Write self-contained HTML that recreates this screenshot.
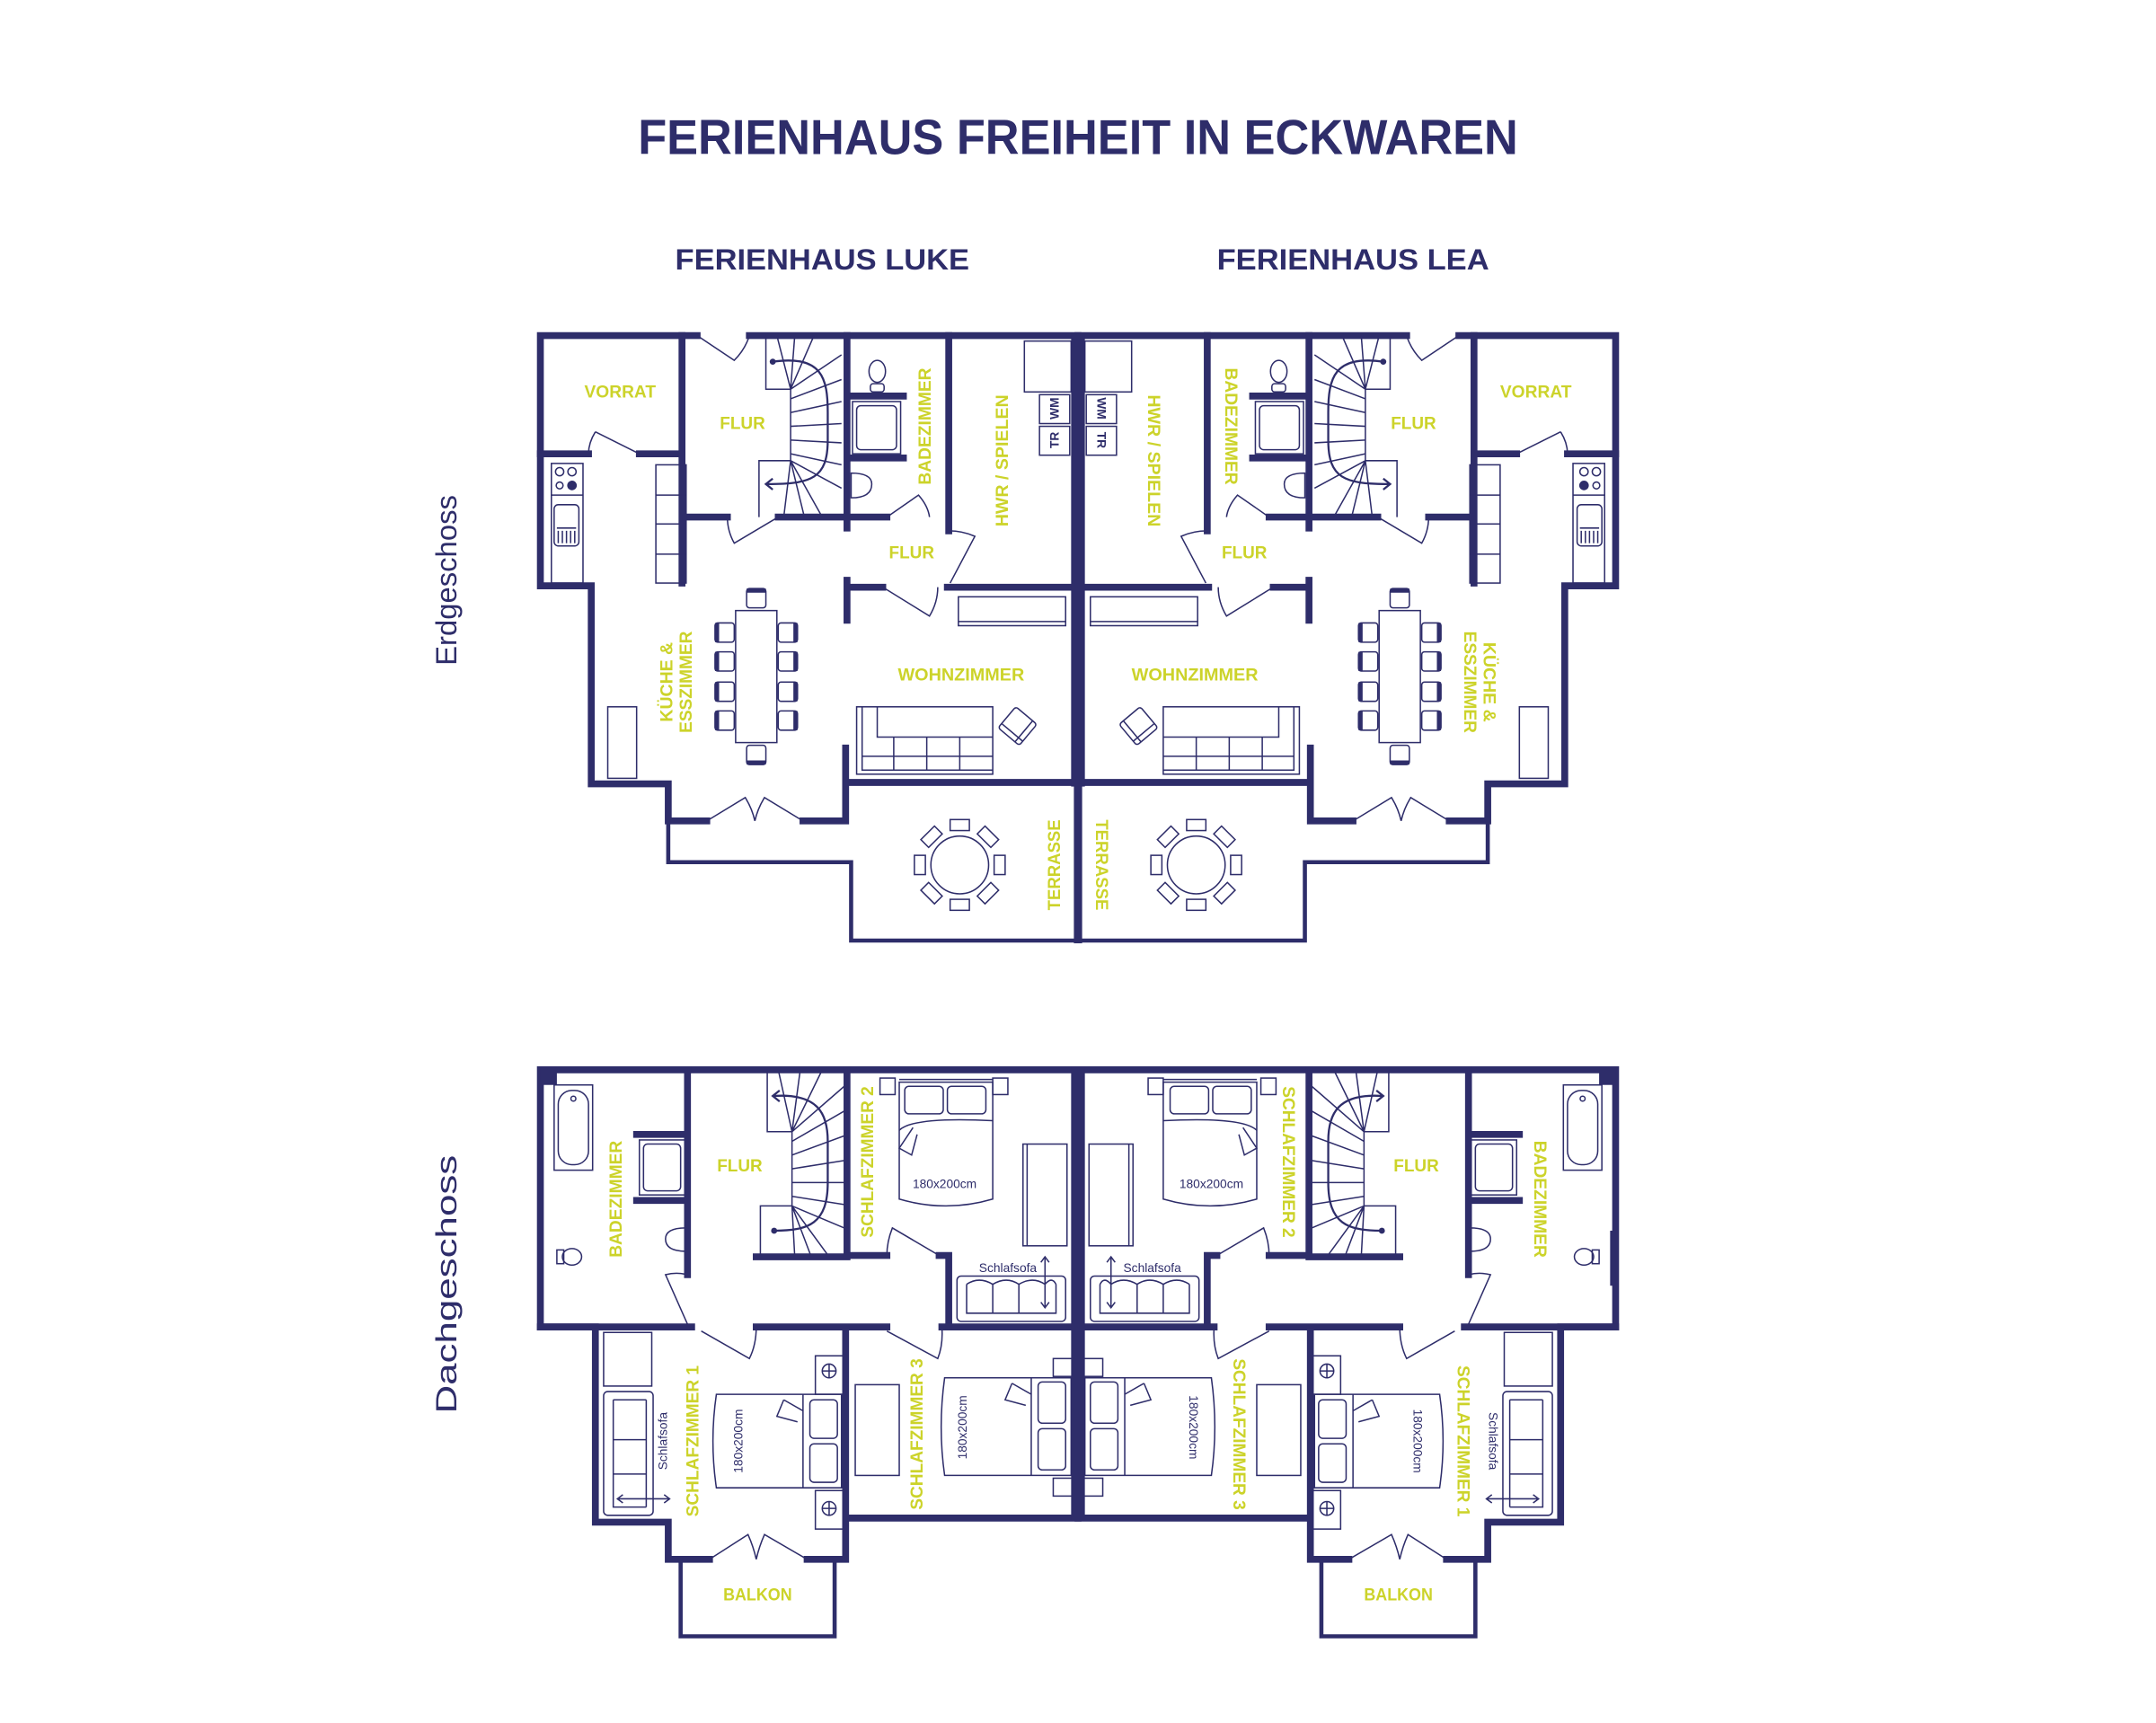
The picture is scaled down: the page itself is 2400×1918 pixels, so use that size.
<!DOCTYPE html>
<html><head><meta charset="utf-8"><style>
html,body{margin:0;padding:0;background:#fff;}
svg{display:block;}
.w{stroke:#2e2d6a;stroke-width:5;fill:none;stroke-linecap:square;}
.m{stroke:#2e2d6a;stroke-width:3;fill:none;stroke-linecap:square;}
.t{stroke:#2e2d6a;stroke-width:1;fill:none;}
.tf{stroke:#2e2d6a;stroke-width:1;fill:#fff;}
.lb{font-family:"Liberation Sans",sans-serif;font-weight:bold;font-size:12.5px;fill:#ccd32a;}
.sm{font-family:"Liberation Sans",sans-serif;font-size:9px;fill:#2e2d6a;}
.hd{font-family:"Liberation Sans",sans-serif;font-weight:bold;fill:#2e2d6a;}
</style></head><body>
<svg width="2400" height="1918" viewBox="0 0 1568 1253" xmlns="http://www.w3.org/2000/svg">
<defs>
<g id="chair"><rect x="-7" y="-7" width="14" height="14" rx="2" class="tf"/><rect x="-7" y="-7" width="3" height="14" fill="#2e2d6a"/></g>
<g id="L">
 <!-- ===== GROUND FLOOR ===== -->
 <path class="w" d="M393,244 H507 M545,244 H784 M393,244 V426 H430 V570 H486 V597 H514 M584,597 H615 V544 M615,569 H784"/>
 <path class="w" d="M496,244 V424 M393,330 H428 M465,330 H496"/>
 <path class="t" d="M465,330 L433,314 M433,314 Q428,322 428,330"/>
 <path class="t" d="M507,244 L534,262 Q542,254 545,244"/>
 <path class="w" d="M499,376 H529 M566,376 H616 M616,244 V384 M690,244 V386 M616,376 H645 M616,422 V451 M616,427 H642 M689,427 H784"/>
 <path class="t" d="M566,376 L534,395 Q529,386 529,376"/>
 <path class="t" d="M645,376 L668,360 Q675,368 676,376"/>
 <path class="t" d="M642,427 L676,448 Q682,438 682,427"/>
 <path class="t" d="M691,424 L709,390 Q700,386 690,386"/>
 <path class="t" d="M514,597 L542,580 Q547,588 549,597 M584,597 L556,580 Q551,588 549,597"/>
 <!-- terrace -->
 <path class="m" d="M486,597 V627 H619 V684 H784"/>
 <!-- kitchen counter -->
 <rect x="401" y="337" width="23" height="87" class="t"/>
 <line x1="401" y1="360" x2="424" y2="360" class="t"/>
 <circle cx="407" cy="343" r="3" class="t"/><circle cx="416" cy="343" r="3" class="t"/>
 <circle cx="407" cy="353" r="2.5" class="t"/><circle cx="416" cy="353" r="3.5" fill="#2e2d6a"/>
 <rect x="403" y="367" width="18" height="30" rx="3" class="t"/>
 <path class="t" d="M405,384 H419 M406,386 V395 M409,386 V395 M412,386 V395 M415,386 V395 M418,386 V395"/>
 <rect x="477" y="338" width="22" height="86" class="t"/>
 <path class="t" d="M477,360 H499 M477,381 H499 M477,403 H499"/>
 <!-- stairs ground -->
 <path class="t" d="M557,244 V283 H575 V335 H552 V376"/>
 <path class="t" d="M575,283 L565,244 M575,283 L578,244 M575,283 L592,244 M575,283 L612,258 M575,290 L612,276 M575,300 L612,292 M575,310 L612,308 M575,320 L612,322 M575,330 L612,338 M575,335 L612,355 M575,335 L598,376 M575,335 L585,376 M575,335 L570,376"/>
 <circle cx="562" cy="263" r="2.2" fill="#2e2d6a"/>
 <path d="M562,263 C598,258 602,275 602,300 V320 C602,348 590,352 558,352 M562,348 L557,352 L562,356" stroke="#2e2d6a" stroke-width="1.5" fill="none"/>
 <!-- bath ground -->
 <path class="w" d="M618,288 H657 M618,333 H657"/>
 <rect x="620" y="292" width="35" height="38" class="t"/><rect x="623" y="295" width="29" height="32" rx="3" class="t"/>
 <ellipse cx="638" cy="270" rx="6" ry="8" class="t"/><rect x="633" y="279" width="10" height="6" rx="2" class="t"/>
 <path class="t" d="M619,344 Q634,344 634,352 Q634,362 619,362 Z"/>
 <!-- HWR -->
 <rect x="745" y="248" width="34" height="37" class="t"/>
 <rect x="756" y="287" width="22" height="21" class="t"/><rect x="756" y="310" width="22" height="21" class="t"/>
 <!-- dining -->
 <rect x="535" y="444" width="30" height="96" class="t"/>
 <g transform="translate(527,460)"><use href="#chair"/></g>
 <g transform="translate(527,481)"><use href="#chair"/></g>
 <g transform="translate(527,503)"><use href="#chair"/></g>
 <g transform="translate(527,524)"><use href="#chair"/></g>
 <g transform="translate(573,460) rotate(180)"><use href="#chair"/></g>
 <g transform="translate(573,481) rotate(180)"><use href="#chair"/></g>
 <g transform="translate(573,503) rotate(180)"><use href="#chair"/></g>
 <g transform="translate(573,524) rotate(180)"><use href="#chair"/></g>
 <g transform="translate(550,435) rotate(90)"><use href="#chair"/></g>
 <g transform="translate(550,549) rotate(-90)"><use href="#chair"/></g>
 <rect x="442" y="514" width="21" height="52" class="t"/>
 <!-- living -->
 <rect x="623" y="514" width="99" height="49" class="t"/>
 <path class="t" d="M627,514 V560 H722 M627,550 H722 M650,536 V560 M674,536 V560 M698,536 V560 M638,514 V536 H722"/>
 <g transform="translate(740,528) rotate(40)"><rect x="-10" y="-10" width="20" height="20" rx="2" class="tf"/><path class="t" d="M-10,6 H10 M6,-10 V10"/></g>
 <rect x="697" y="434" width="78" height="21" class="t"/><line x1="697" y1="452" x2="775" y2="452" class="t"/>
 <!-- terrace table -->
 <circle cx="698" cy="629" r="21" class="t"/>
 <g transform="translate(698,629)">
  <g transform="rotate(0) translate(0,-29)"><rect x="-7" y="-4" width="14" height="8" class="tf"/></g>
  <g transform="rotate(45) translate(0,-29)"><rect x="-7" y="-4" width="14" height="8" class="tf"/></g>
  <g transform="rotate(90) translate(0,-29)"><rect x="-7" y="-4" width="14" height="8" class="tf"/></g>
  <g transform="rotate(135) translate(0,-29)"><rect x="-7" y="-4" width="14" height="8" class="tf"/></g>
  <g transform="rotate(180) translate(0,-29)"><rect x="-7" y="-4" width="14" height="8" class="tf"/></g>
  <g transform="rotate(225) translate(0,-29)"><rect x="-7" y="-4" width="14" height="8" class="tf"/></g>
  <g transform="rotate(270) translate(0,-29)"><rect x="-7" y="-4" width="14" height="8" class="tf"/></g>
  <g transform="rotate(315) translate(0,-29)"><rect x="-7" y="-4" width="14" height="8" class="tf"/></g>
 </g>

 <!-- ===== UPPER FLOOR ===== -->
 <path class="w" d="M393,778 H784 M393,778 V965 H433 V1107 H486 V1134 H516 M587,1134 H615 V1104 M615,1104 H784"/>
 <rect x="393" y="776" width="12" height="13" fill="#2e2d6a"/>
 <path class="m" d="M495,1134 V1190 H607 V1134"/>
 <path class="w" d="M500,778 V927 M463,825 H500 M463,873 H500 M393,965 H503 M550,965 H615 M615,965 V1104 M615,965 H645 M685,965 H784"/>
 <path class="w" d="M616,778 V914 M550,914 H616 M616,913 H645 M683,913 H690 V965"/>
 <path class="t" d="M500,963 L484,927 Q492,925 500,927"/>
 <path class="t" d="M510,968 L545,988 Q550,978 550,965"/>
 <path class="t" d="M645,968 L682,988 Q686,978 685,965"/>
 <path class="t" d="M683,913 L649,893 Q645,903 645,913"/>
 <path class="t" d="M516,1134 L544,1116 Q548,1125 550,1134 M587,1134 L556,1116 Q552,1125 550,1134"/>
 <!-- upper bath -->
 <rect x="403" y="789" width="28" height="62" class="t"/><rect x="406" y="793" width="22" height="54" rx="10" class="t"/>
 <circle cx="417" cy="799" r="1.8" class="t"/>
 <rect x="465" y="829" width="33" height="40" class="t"/><rect x="468" y="832" width="27" height="34" rx="3" class="t"/>
 <ellipse cx="416" cy="914" rx="7" ry="6" class="t"/><rect x="405" y="909" width="5" height="10" class="t"/>
 <path class="t" d="M499,893 Q484,893 484,901 Q484,910 499,910 Z"/>
 <!-- upper stairs -->
 <path class="t" d="M558,778 V823 H576 V877 H553 V914"/>
 <path class="t" d="M576,823 L566,778 M576,823 L582,778 M576,823 L598,778 M576,823 L614,790 M576,830 L614,808 M576,840 L614,826 M576,850 L614,844 M576,860 L614,860 M576,870 L614,876 M576,877 L614,893 M576,877 L603,914 M576,877 L590,914 M576,877 L578,914"/>
 <path d="M563,797 C595,795 602,810 602,830 V860 C602,890 588,895 563,895 M567,793 L562,797 L567,801" stroke="#2e2d6a" stroke-width="1.5" fill="none"/>
 <circle cx="563" cy="895" r="2.2" fill="#2e2d6a"/>
 <!-- SZ2 -->
 <rect x="640" y="784" width="11" height="12" class="t"/><rect x="722" y="784" width="11" height="12" class="t"/>
 <path class="t" d="M654,787 H722 V872 Q688,882 654,872 Z M654,785 H722"/>
 <rect x="658" y="790" width="28" height="20" rx="3" class="t"/><rect x="689" y="790" width="28" height="20" rx="3" class="t"/>
 <path class="t" d="M654,822 Q664,812 722,815 M664,820 L654,835 L663,840 L667,825"/>
 <rect x="744" y="832" width="32" height="74" class="t"/><line x1="747" y1="832" x2="747" y2="906" class="t"/>
 <rect x="696" y="928" width="79" height="33" rx="3" class="t"/>
 <path class="t" d="M703,934 V955 H768 V934 M703,934 Q712,928 722,934 Q732,928 741,934 Q751,928 760,934 Q765,928 768,934 M722,934 V955 M741,934 V955"/>
 <path class="t" d="M760,915 V950 M757,918 L760,914 L763,918 M757,947 L760,951 L763,947"/>
 <!-- SZ1 -->
 <rect x="439" y="969" width="35" height="39" class="t"/>
 <rect x="439" y="1012" width="36" height="90" rx="3" class="t"/>
 <path class="t" d="M446,1018 H470 M446,1018 V1096 H470 M446,1047 H470 M446,1072 H470 M470,1018 V1096"/>
 <path class="t" d="M450,1090 H486 M453,1087 L449,1090 L453,1093 M483,1087 L487,1090 L483,1093"/>
 <path class="t" d="M521,1014 H612 V1082 H521 Q516,1048 521,1014 Z"/>
 <rect x="589" y="1018" width="20" height="28" rx="3" class="t"/><rect x="589" y="1050" width="20" height="28" rx="3" class="t"/>
 <path class="t" d="M584,1014 V1082 M570,1018 L584,1026 M570,1018 L565,1030 L580,1034"/>
 <rect x="593" y="986" width="20" height="28" class="t"/><circle cx="603" cy="997" r="5" class="t"/><path class="t" d="M598,997 H608 M603,992 V1002"/>
 <rect x="593" y="1084" width="20" height="28" class="t"/><circle cx="603" cy="1097" r="5" class="t"/><path class="t" d="M598,1097 H608 M603,1092 V1102"/>
 <!-- SZ3 -->
 <rect x="622" y="1007" width="32" height="66" class="t"/>
 <path class="t" d="M687,1002 H779 V1073 H687 Q682,1038 687,1002 Z"/>
 <rect x="755" y="1005" width="20" height="30" rx="3" class="t"/><rect x="755" y="1039" width="20" height="30" rx="3" class="t"/>
 <path class="t" d="M750,1002 V1073 M736,1006 L750,1014 M736,1006 L731,1018 L746,1022"/>
 <rect x="766" y="988" width="14" height="13" class="t"/><rect x="766" y="1075" width="14" height="13" class="t"/>
</g>
</defs>

<use href="#L"/>
<use href="#L" transform="translate(1568,0) scale(-1,1)"/>
<!-- center walls -->
<rect x="779" y="242" width="10" height="330" fill="#2e2d6a"/>
<rect x="781" y="570" width="6" height="116" fill="#2e2d6a"/>
<rect x="779" y="776" width="10" height="330" fill="#2e2d6a"/>
<rect x="1171" y="895" width="4" height="40" fill="#2e2d6a"/>

<!-- headings -->
<text class="hd" x="784" y="112" text-anchor="middle" font-size="36" textLength="640" lengthAdjust="spacingAndGlyphs">FERIENHAUS FREIHEIT IN ECKWAREN</text>
<text class="hd" x="598" y="196" text-anchor="middle" font-size="21" textLength="214" lengthAdjust="spacingAndGlyphs">FERIENHAUS LUKE</text>
<text class="hd" x="984" y="196" text-anchor="middle" font-size="21" textLength="198" lengthAdjust="spacingAndGlyphs">FERIENHAUS LEA</text>
<text font-family="Liberation Sans,sans-serif" font-size="21" fill="#2e2d6a" text-anchor="middle" textLength="124" lengthAdjust="spacingAndGlyphs" transform="translate(332,422) rotate(-90)">Erdgeschoss</text>
<text font-family="Liberation Sans,sans-serif" font-size="21" fill="#2e2d6a" text-anchor="middle" textLength="188" lengthAdjust="spacingAndGlyphs" transform="translate(332,934) rotate(-90)">Dachgeschoss</text>

<!-- ground labels left -->
<text class="lb" x="451" y="289" text-anchor="middle" textLength="52" lengthAdjust="spacingAndGlyphs">VORRAT</text>
<text class="lb" x="540" y="312" text-anchor="middle" textLength="33" lengthAdjust="spacingAndGlyphs">FLUR</text>
<text class="lb" text-anchor="middle" textLength="85" lengthAdjust="spacingAndGlyphs" transform="translate(677,310) rotate(-90)">BADEZIMMER</text>
<text class="lb" text-anchor="middle" textLength="96" lengthAdjust="spacingAndGlyphs" transform="translate(733,335) rotate(-90)">HWR / SPIELEN</text>
<text class="lb" x="663" y="406" text-anchor="middle" textLength="33" lengthAdjust="spacingAndGlyphs">FLUR</text>
<text class="lb" x="699" y="495" text-anchor="middle" textLength="92" lengthAdjust="spacingAndGlyphs">WOHNZIMMER</text>
<text class="lb" text-anchor="middle" textLength="58" lengthAdjust="spacingAndGlyphs" transform="translate(489,496) rotate(-90)">KÜCHE &amp;</text>
<text class="lb" text-anchor="middle" textLength="74" lengthAdjust="spacingAndGlyphs" transform="translate(503,496) rotate(-90)">ESSZIMMER</text>
<text class="lb" text-anchor="middle" textLength="66" lengthAdjust="spacingAndGlyphs" transform="translate(771,629) rotate(-90)">TERRASSE</text>
<text class="sm" font-weight="bold" font-size="8" text-anchor="middle" transform="translate(770,297) rotate(-90)">WM</text>
<text class="sm" font-weight="bold" font-size="8" text-anchor="middle" transform="translate(770,320) rotate(-90)">TR</text>
<!-- ground labels right -->
<text class="lb" x="1117" y="289" text-anchor="middle" textLength="52" lengthAdjust="spacingAndGlyphs">VORRAT</text>
<text class="lb" x="1028" y="312" text-anchor="middle" textLength="33" lengthAdjust="spacingAndGlyphs">FLUR</text>
<text class="lb" text-anchor="middle" textLength="85" lengthAdjust="spacingAndGlyphs" transform="translate(891,310) rotate(90)">BADEZIMMER</text>
<text class="lb" text-anchor="middle" textLength="96" lengthAdjust="spacingAndGlyphs" transform="translate(835,335) rotate(90)">HWR / SPIELEN</text>
<text class="lb" x="905" y="406" text-anchor="middle" textLength="33" lengthAdjust="spacingAndGlyphs">FLUR</text>
<text class="lb" x="869" y="495" text-anchor="middle" textLength="92" lengthAdjust="spacingAndGlyphs">WOHNZIMMER</text>
<text class="lb" text-anchor="middle" textLength="58" lengthAdjust="spacingAndGlyphs" transform="translate(1079,496) rotate(90)">KÜCHE &amp;</text>
<text class="lb" text-anchor="middle" textLength="74" lengthAdjust="spacingAndGlyphs" transform="translate(1065,496) rotate(90)">ESSZIMMER</text>
<text class="lb" text-anchor="middle" textLength="66" lengthAdjust="spacingAndGlyphs" transform="translate(797,629) rotate(90)">TERRASSE</text>
<text class="sm" font-weight="bold" font-size="8" text-anchor="middle" transform="translate(798,297) rotate(90)">WM</text>
<text class="sm" font-weight="bold" font-size="8" text-anchor="middle" transform="translate(798,320) rotate(90)">TR</text>

<!-- upper labels left -->
<text class="lb" text-anchor="middle" textLength="85" lengthAdjust="spacingAndGlyphs" transform="translate(452,872) rotate(-90)">BADEZIMMER</text>
<text class="lb" x="538" y="852" text-anchor="middle" textLength="33" lengthAdjust="spacingAndGlyphs">FLUR</text>
<text class="lb" text-anchor="middle" textLength="110" lengthAdjust="spacingAndGlyphs" transform="translate(635,845) rotate(-90)">SCHLAFZIMMER 2</text>
<text class="lb" text-anchor="middle" textLength="110" lengthAdjust="spacingAndGlyphs" transform="translate(508,1048) rotate(-90)">SCHLAFZIMMER 1</text>
<text class="lb" text-anchor="middle" textLength="110" lengthAdjust="spacingAndGlyphs" transform="translate(671,1043) rotate(-90)">SCHLAFZIMMER 3</text>
<text class="lb" x="551" y="1164" text-anchor="middle" textLength="50" lengthAdjust="spacingAndGlyphs">BALKON</text>
<text class="sm" x="687" y="864" text-anchor="middle">180x200cm</text>
<text class="sm" x="733" y="925" text-anchor="middle">Schlafsofa</text>
<text class="sm" text-anchor="middle" transform="translate(485,1048) rotate(-90)">Schlafsofa</text>
<text class="sm" text-anchor="middle" transform="translate(540,1048) rotate(-90)">180x200cm</text>
<text class="sm" text-anchor="middle" transform="translate(703,1038) rotate(-90)">180x200cm</text>
<!-- upper labels right -->
<text class="lb" text-anchor="middle" textLength="85" lengthAdjust="spacingAndGlyphs" transform="translate(1116,872) rotate(90)">BADEZIMMER</text>
<text class="lb" x="1030" y="852" text-anchor="middle" textLength="33" lengthAdjust="spacingAndGlyphs">FLUR</text>
<text class="lb" text-anchor="middle" textLength="110" lengthAdjust="spacingAndGlyphs" transform="translate(933,845) rotate(90)">SCHLAFZIMMER 2</text>
<text class="lb" text-anchor="middle" textLength="110" lengthAdjust="spacingAndGlyphs" transform="translate(1060,1048) rotate(90)">SCHLAFZIMMER 1</text>
<text class="lb" text-anchor="middle" textLength="110" lengthAdjust="spacingAndGlyphs" transform="translate(897,1043) rotate(90)">SCHLAFZIMMER 3</text>
<text class="lb" x="1017" y="1164" text-anchor="middle" textLength="50" lengthAdjust="spacingAndGlyphs">BALKON</text>
<text class="sm" x="881" y="864" text-anchor="middle">180x200cm</text>
<text class="sm" x="838" y="925" text-anchor="middle">Schlafsofa</text>
<text class="sm" text-anchor="middle" transform="translate(1083,1048) rotate(90)">Schlafsofa</text>
<text class="sm" text-anchor="middle" transform="translate(1028,1048) rotate(90)">180x200cm</text>
<text class="sm" text-anchor="middle" transform="translate(865,1038) rotate(90)">180x200cm</text>
</svg>
</body></html>
